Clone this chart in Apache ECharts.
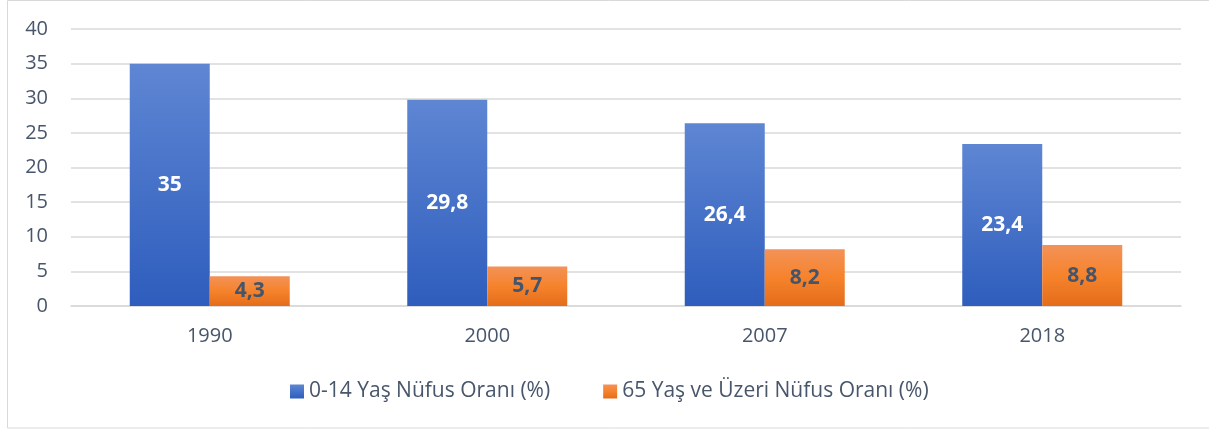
<!DOCTYPE html>
<html><head><meta charset="utf-8">
<script src="https://cdn.jsdelivr.net/npm/echarts@6/dist/echarts.min.js"></script>
<style>html,body{margin:0;padding:0;background:#fff}#c{width:1209px;height:432px}</style>
</head><body><div id="c"></div>
<script>
const categories = ['1990', '2000', '2007', '2018'];
const youngShare = [35, 29.8, 26.4, 23.4];
const oldShare = [4.3, 5.7, 8.2, 8.8];
const seriesNames = ['0-14 Yaş Nüfus Oranı (%)', '65 Yaş ve Üzeri Nüfus Oranı (%)'];
const yTicks = {min: 0, max: 40, interval: 5};

const fmt = v => String(v).replace('.', ',');
const font = 'Open Sans, Noto Sans, sans-serif';
const txt = '#48566b';
const chart = echarts.init(document.getElementById('c'));
chart.setOption({
  animation: false,
  graphic: [{type: 'rect', shape: {x: 7.5, y: 0.5, width: 1210, height: 427.5},
    style: {fill: 'none', stroke: '#d9d9d9', lineWidth: 1}, silent: true}],
  grid: {left: 71, right: 28, top: 29, bottom: 126},
  legend: {
    top: 376, left: 285, itemWidth: 14, itemHeight: 14, itemGap: 53,
    icon: 'rect',
    textStyle: {color: txt, fontSize: 21, fontFamily: font},
    data: seriesNames
  },
  xAxis: {
    type: 'category', data: categories,
    axisLine: {lineStyle: {color: '#d9d9d9', width: 1.5}},
    axisTick: {show: false},
    axisLabel: {color: txt, fontSize: 20, fontFamily: font, margin: 20}
  },
  yAxis: {
    type: 'value', min: yTicks.min, max: yTicks.max, interval: yTicks.interval,
    axisLine: {show: false}, axisTick: {show: false},
    splitLine: {lineStyle: {color: '#d9d9d9', width: 1.5}},
    axisLabel: {color: txt, fontSize: 20, fontFamily: font, margin: 23}
  },
  series: [
    {
      name: seriesNames[0], type: 'bar', data: youngShare, barWidth: 80, barGap: '0%',
      itemStyle: {color: new echarts.graphic.LinearGradient(0, 0, 0, 1, [
        {offset: 0, color: '#5e86d3'}, {offset: 1, color: '#2e5dbd'}])},
      label: {show: true, position: 'inside', color: '#ffffff', fontWeight: 'bold',
        fontSize: 21, fontFamily: font, formatter: p => fmt(p.value)}
    },
    {
      name: seriesNames[1], type: 'bar', data: oldShare, barWidth: 80,
      itemStyle: {color: new echarts.graphic.LinearGradient(0, 0, 0, 1, [
        {offset: 0, color: '#f39258'}, {offset: 0.5, color: '#f6832c'}, {offset: 1, color: '#e46c1a'}])},
      label: {show: true, position: 'inside', color: '#44546a', fontWeight: 'bold',
        fontSize: 21, fontFamily: font, formatter: p => fmt(p.value)}
    }
  ]
});
</script></body></html>
